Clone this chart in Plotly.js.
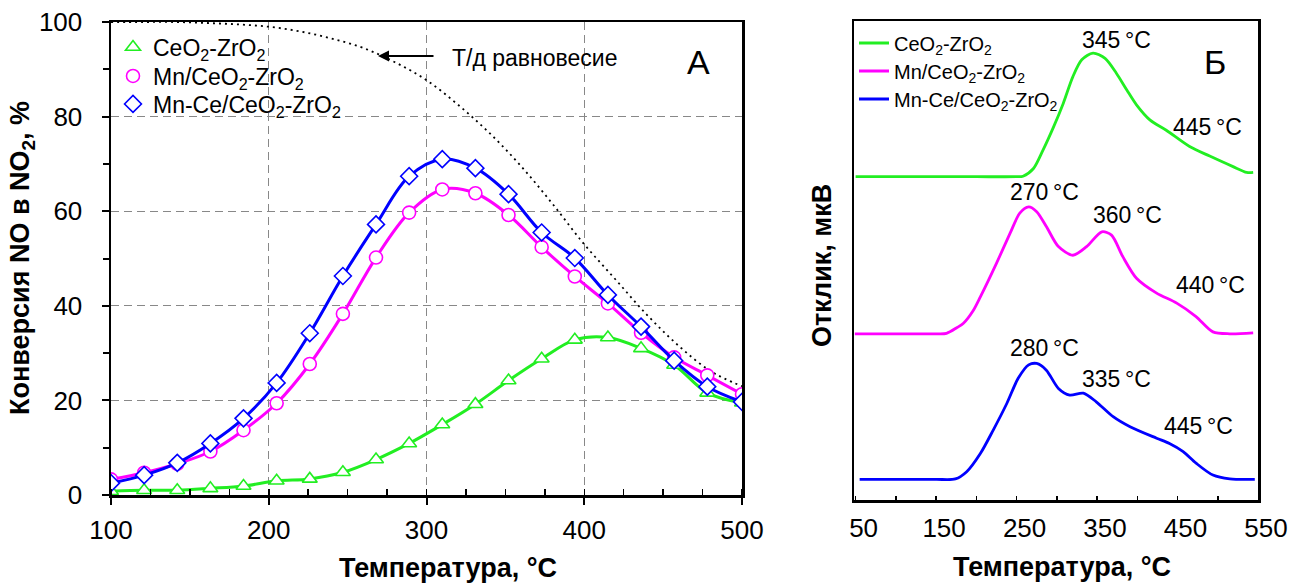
<!DOCTYPE html>
<html>
<head>
<meta charset="utf-8">
<script src="https://cdn.plot.ly/plotly-3.0.1.min.js"></script>
<style>html,body{margin:0;padding:0;background:#fff;}#chart{width:1295px;height:583px;}</style>
</head>
<body>
<div id="chart"></div>
<script>
// ---------- Panel A data (conversion NO -> NO2, %) ----------
const tempA = [100,121,142,163,184,205,226,247,268,289,310,331,352,373,394,415,436,457,478,500];
const convCeZr = [0.8,1.0,1.0,1.4,1.9,3.0,3.4,4.8,7.5,10.9,14.9,19.2,24.2,28.8,32.8,33.3,31.0,27.5,21.6,19.5];
const convMnCeZr = [3.3,4.7,6.6,9.2,13.7,19.4,27.7,38.3,50.2,59.7,64.6,63.8,59.2,52.4,46.2,40.5,34.3,29.1,25.3,21.3];
const convMnCeCeZr = [2.5,4.2,6.8,10.9,16.2,23.7,34.2,46.3,57.2,67.4,71.0,69.1,63.6,55.5,50.1,42.3,35.6,28.4,22.9,19.7];
const tempEq = [100,120,140,160,180,200,220,240,260,280,300,320,340,360,380,400,420,440,460,480,500];
const convEq = [100,100,100,99.8,99.5,99,98,96.5,94.5,91.5,87.7,82.5,76.5,69.5,61.5,53,45.5,38,31.5,26.2,23];

// ---------- Panel B data (TPR response, offset curves) ----------
const tempB1 = [50,100,150,200,250,258,271,283,296,308,320,331,345,360,374,387,399,416,436,465,490,519,536,544];
const respCeZr = [67.5,67.5,67.5,67.5,67.5,67.6,69.2,73.1,77.9,82.8,88.4,91.9,93.3,92.2,89.1,85.6,82.5,79.3,77.2,73.8,71.8,69.6,68.4,68.4];
const tempB2 = [49,100,150,163,176,184,196,205,225,242,254,265,275,287,302,320,337,356,368,382,399,424,449,473,494,515,544];
const respMnCeZr = [34.7,34.7,34.7,34.8,36.0,36.9,39.5,42.4,49.4,55.7,59.9,61.2,60.2,57.1,52.9,51.1,52.9,56.0,55.3,50.8,46.3,43.2,41.1,38.3,35.1,34.7,34.9];
const tempB3 = [55,100,150,174,188,205,221,238,252,265,275,287,302,316,333,349,370,391,424,440,457,473,494,515,546];
const respMnCeCeZr = [4.3,4.3,4.3,4.4,5.9,9.7,14.6,20.2,25.4,28.2,28.5,27.1,23.3,21.9,22.3,20.5,17.4,15.3,12.9,11.8,10.1,7.7,5.2,4.4,4.3];

const seriesNames = ['CeO<sub>2</sub>-ZrO<sub>2</sub>','Mn/CeO<sub>2</sub>-ZrO<sub>2</sub>','Mn-Ce/CeO<sub>2</sub>-ZrO<sub>2</sub>'];
const colors = ['#22ee22','#ff00ff','#0000ff'];
const symbols = ['triangle-up','circle','diamond'];
const seriesA = [convCeZr, convMnCeZr, convMnCeCeZr];
const seriesBx = [tempB1, tempB2, tempB3];
const seriesBy = [respCeZr, respMnCeZr, respMnCeCeZr];

const xTicksA = [100,200,300,400,500];
const xTicksB = [50,100,150,200,250,300,350,400,450,500,550];
const xTickTextB = ['50','','150','','250','','350','','450','','550'];
const peakLabels = ['345\u2009°C','445\u2009°C','270\u2009°C','360\u2009°C','440\u2009°C','280\u2009°C','335\u2009°C','445\u2009°C'];

const W = 1295, H = 583;
const px = x => x / W;
const py = y => 1 - y / H;
const FONT = 'Liberation Sans, Arial, Helvetica, sans-serif';

const legendsA = ['legend','legend3','legend4'];
const legendsB = ['legend2','legend5','legend6'];

const traces = [];
traces.push({x: tempEq, y: convEq, mode: 'lines', xaxis: 'x', yaxis: 'y', showlegend: false,
  line: {color: '#000', width: 1.8, dash: '2px,4px', shape: 'spline', smoothing: 1}, hoverinfo: 'skip'});
for (let i = 0; i < 3; i++) {
  traces.push({x: tempA, y: seriesA[i], mode: 'lines', xaxis: 'x', yaxis: 'y', showlegend: false,
    line: {color: colors[i], width: 3, shape: 'spline', smoothing: 1}});
  traces.push({x: tempA, y: seriesA[i], mode: 'markers', xaxis: 'x', yaxis: 'y', name: seriesNames[i],
    legend: legendsA[i],
    marker: {symbol: symbols[i], size: 13, color: '#fff', line: {color: colors[i], width: 1.6}}});
}
for (let i = 0; i < 3; i++) {
  traces.push({x: seriesBx[i], y: seriesBy[i], mode: 'lines', xaxis: 'x2', yaxis: 'y2', name: seriesNames[i],
    legend: legendsB[i],
    line: {color: colors[i], width: 2.8, shape: 'spline', smoothing: 0.8}});
}

const tickFont = {family: FONT, size: 26, color: '#000'};
const titleFont = {family: FONT, size: 27, color: '#000', weight: 'bold'};

const ann = (x, y, text, size, extra) => Object.assign({xref: 'paper', yref: 'paper', x: px(x), y: py(y),
  text: text, showarrow: false, font: {family: FONT, size: size, color: '#000'}, xanchor: 'center', yanchor: 'middle'}, extra || {});

const legendBox = (x, y, size) => ({x: px(x), y: py(y), xanchor: 'left', yanchor: 'middle', bgcolor: 'rgba(0,0,0,0)',
  borderwidth: 0, font: {family: FONT, size: size, color: '#000'}, itemclick: false, itemdoubleclick: false});

const layout = {
  width: W, height: H,
  margin: {l: 0, r: 0, t: 0, b: 0},
  paper_bgcolor: '#fff', plot_bgcolor: '#fff',
  showlegend: true,
  xaxis: {domain: [px(111), px(742)], range: [100, 500], anchor: 'y', tickvals: xTicksA,
    ticks: 'outside', ticklen: 7, tickwidth: 2, tickcolor: '#000', ticklabelstandoff: 3,
    minor: {dtick: 25, tick0: 100, ticks: 'inside', ticklen: 6, tickwidth: 1.5, tickcolor: '#000', showgrid: false},
    showline: true, linewidth: 2.5, linecolor: '#000', mirror: true,
    showgrid: true, gridcolor: '#888', gridwidth: 1, griddash: '8px,5px', zeroline: false,
    tickfont: tickFont},
  xaxis3: {overlaying: 'x', anchor: 'y', range: [100, 500], tickvals: xTicksA, ticks: 'inside', ticklen: 6, tickwidth: 2,
    tickcolor: '#000', showticklabels: false, showgrid: false, showline: false, zeroline: false},
  yaxis: {domain: [py(495), py(22)], range: [0, 100], anchor: 'x', dtick: 20, tick0: 0,
    ticks: 'outside', ticklen: 7, tickwidth: 2, tickcolor: '#000', ticklabelstandoff: 14,
    minor: {dtick: 10, tick0: 0, ticks: 'outside', ticklen: 6, tickwidth: 2, tickcolor: '#000', showgrid: false},
    showline: true, linewidth: 2.5, linecolor: '#000', mirror: true,
    showgrid: true, gridcolor: '#888', gridwidth: 1, griddash: '8px,5px', zeroline: false,
    tickfont: tickFont},
  xaxis2: {domain: [px(854), px(1258)], range: [48, 550], anchor: 'y2', tickvals: xTicksB, ticktext: xTickTextB,
    ticks: 'inside', ticklen: 4, tickwidth: 1.5, tickcolor: '#000', ticklabelshift: 8, ticklabelstandoff: 3,
    showline: true, linewidth: 2.5, linecolor: '#000', mirror: true, showgrid: false, zeroline: false,
    tickfont: tickFont},
  yaxis2: {domain: [py(500), py(21)], range: [0, 100], anchor: 'x2', showticklabels: false, ticks: '',
    showline: true, linewidth: 2.5, linecolor: '#000', mirror: true, showgrid: false, zeroline: false},
  legend: legendBox(113, 47, 23),
  legend3: legendBox(113, 76, 23),
  legend4: legendBox(113, 104, 23),
  legend2: legendBox(854, 43, 20),
  legend5: legendBox(854, 71, 20),
  legend6: legendBox(854, 99, 20),
  annotations: [
    ann(448, 568, 'Температура, °C', 27, {font: titleFont}),
    ann(1062, 567, 'Температура, °C', 27, {font: titleFont}),
    ann(22, 258, 'Конверсия NO в NO<sub>2</sub>, %', 27, {font: titleFont, textangle: -90}),
    ann(822, 266, 'Отклик, мкВ', 27, {font: titleFont, textangle: -90}),
    ann(450, 58, 'Т/д равновесие', 23, {xanchor: 'left'}),
    {xref: 'paper', yref: 'paper', x: px(378), y: py(56), ax: 57, ay: 0, text: '', showarrow: true,
      arrowhead: 2, arrowsize: 1.1, arrowwidth: 2, arrowcolor: '#000'},
    ann(698, 62, 'А', 34),
    ann(1215, 62, 'Б', 34),
    ann(1116, 40, peakLabels[0], 23),
    ann(1207, 127, peakLabels[1], 23),
    ann(1044, 192, peakLabels[2], 23),
    ann(1127, 215, peakLabels[3], 23),
    ann(1210, 285, peakLabels[4], 23),
    ann(1044, 348, peakLabels[5], 23),
    ann(1116, 379, peakLabels[6], 23),
    ann(1198, 426, peakLabels[7], 23)
  ]
};

Plotly.newPlot('chart', traces, layout, {staticPlot: true, displayModeBar: false});
</script>
</body>
</html>
